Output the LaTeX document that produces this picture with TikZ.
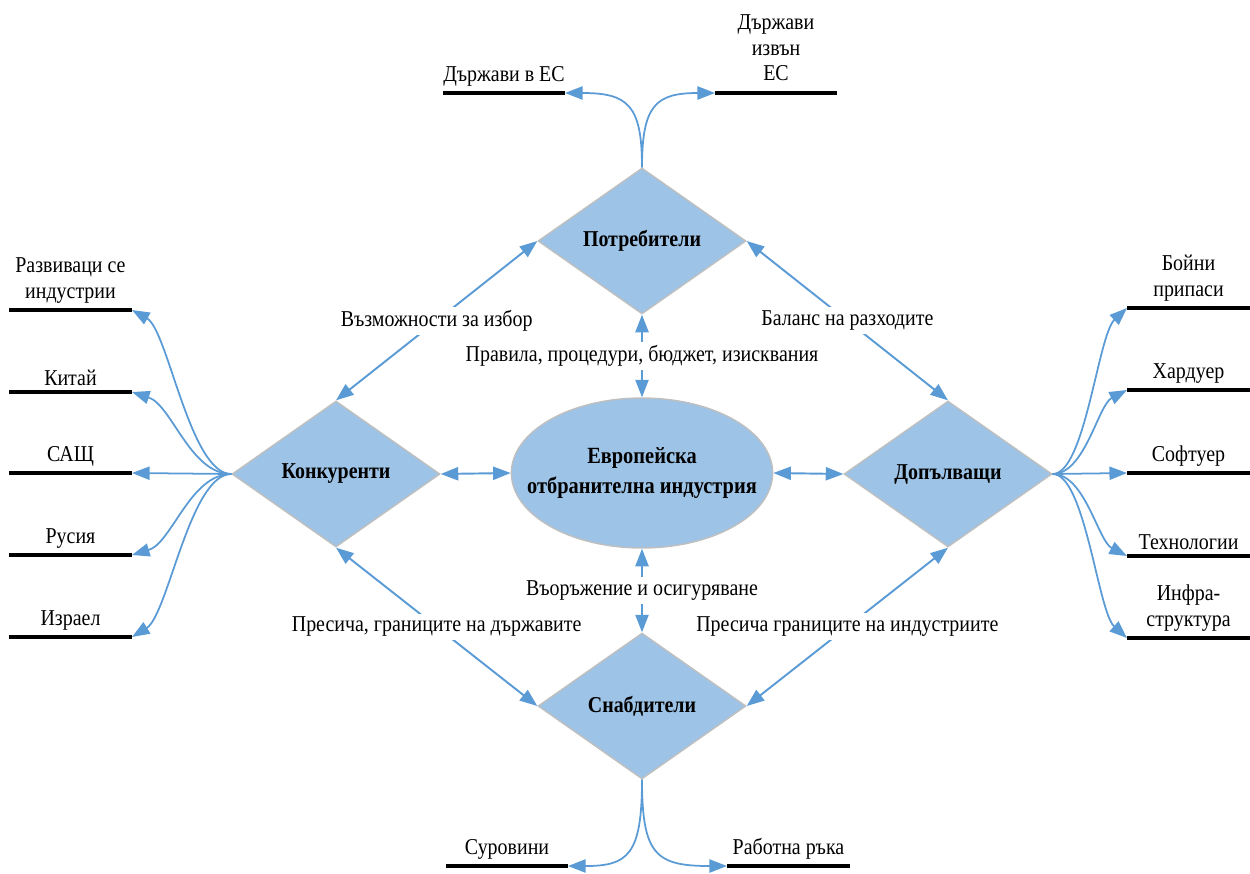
\documentclass[tikz,border=0pt]{standalone}
\usepackage{fontspec}
\setmainfont[FakeStretch=0.88]{Liberation Serif}
\usetikzlibrary{shapes.geometric,arrows.meta}
\definecolor{arrowblue}{HTML}{5B9BD5}
\definecolor{fillblue}{HTML}{9DC3E6}
\definecolor{edgegray}{HTML}{BFBFBF}
\begin{document}
\begin{tikzpicture}[x=0.02cm,y=-0.02cm,
  font=\fontsize{12.9}{14.7}\selectfont,
  dia/.style={diamond,draw=edgegray,line width=0.8pt,fill=fillblue,minimum width=4.16cm,minimum height=2.92cm,inner sep=0pt,font=\fontsize{12.9}{14.7}\selectfont\bfseries},
  ell/.style={ellipse,draw=edgegray,line width=0.8pt,fill=fillblue,minimum width=5.2cm,minimum height=3cm,inner xsep=-0.45cm,inner ysep=0pt,align=center,font=\fontsize{13.2}{17}\selectfont\bfseries},
  conn/.style={draw=arrowblue,line width=1.1pt,{Triangle[length=10pt,width=7.5pt]}-{Triangle[length=10pt,width=7.5pt]}},
  fan/.style={draw=arrowblue,line width=1pt,-{Triangle[length=10pt,width=7.5pt]}},
  bar/.style={draw=black,line width=2.6pt},
  lab/.style={fill=white,inner sep=2pt},
  barlabel/.style={anchor=south,align=center,inner sep=2.5pt}
]
\useasboundingbox (0,0) rectangle (1250,873);

% main shapes
\node[dia] (P) at (642,241) {Потребители};
\node[dia] (K) at (336,474) {Конкуренти};
\node[dia] (D) at (948,474) {Допълващи};
\node[dia] (S) at (642,706) {Снабдители};
\node[ell] (E) at (642,473) {Европейска\\отбранителна индустрия};

% connectors between main shapes
\draw[conn] (K.north) -- node[lab] {Възможности за избор} (P.west);
\draw[conn] (P.east) -- node[lab] {Баланс на разходите} (D.north);
\draw[conn] (K.south) -- node[lab] {Пресича, границите на държавите} (S.west);
\draw[conn] (D.south) -- node[lab] {Пресича границите на индустриите} (S.east);
\draw[conn] (P.south) -- node[lab] {Правила, процедури, бюджет, изисквания} (E.north);
\draw[conn] (E.south) -- node[lab] {Въоръжение и осигуряване} (S.north);
\draw[conn] (K.east) -- (E.west);
\draw[conn] (E.east) -- (D.west);

% top bars
\coordinate (TLa) at (443,93); \coordinate (TLb) at (565,93);
\coordinate (TRa) at (715,93); \coordinate (TRb) at (837,93);
\draw[bar] (TLa) -- (TLb) node[barlabel,midway] {Държави в ЕС};
\draw[bar] (TRa) -- (TRb) node[barlabel,midway,yshift=3pt] {Държави\\извън\\ЕС};
\draw[fan] (P.north) .. controls (642,105) and (628,93) .. (TLb);
\draw[fan] (P.north) .. controls (642,105) and (656,93) .. (TRa);

% bottom bars
\coordinate (BLa) at (446,866); \coordinate (BLb) at (568,866);
\coordinate (BRa) at (727,866); \coordinate (BRb) at (850,866);
\draw[bar] (BLa) -- (BLb) node[barlabel,midway] {Суровини};
\draw[bar] (BRa) -- (BRb) node[barlabel,midway] {Работна ръка};
\draw[fan] (S.south) .. controls (642,855) and (628,866) .. (BLb);
\draw[fan] (S.south) .. controls (642,855) and (656,866) .. (BRa);

% left bars
\coordinate (L1a) at (9,310);  \coordinate (L1b) at (132,310);
\coordinate (L2a) at (9,392);  \coordinate (L2b) at (132,392);
\coordinate (L3a) at (9,473);  \coordinate (L3b) at (132,473);
\coordinate (L4a) at (9,555);  \coordinate (L4b) at (132,555);
\coordinate (L5a) at (9,637);  \coordinate (L5b) at (132,637);
\draw[bar] (L1a) -- (L1b) node[barlabel,midway] {Развиваци се\\индустрии};
\draw[bar] (L2a) -- (L2b) node[barlabel,midway] {Китай};
\draw[bar] (L3a) -- (L3b) node[barlabel,midway] {САЩ};
\draw[bar] (L4a) -- (L4b) node[barlabel,midway] {Русия};
\draw[bar] (L5a) -- (L5b) node[barlabel,midway] {Израел};
\draw[fan] (K.west) .. controls (190,474) and (168,330) .. (L1b);
\draw[fan] (K.west) .. controls (190,474) and (172,405) .. (L2b);
\draw[fan] (K.west) -- (L3b);
\draw[fan] (K.west) .. controls (190,474) and (172,543) .. (L4b);
\draw[fan] (K.west) .. controls (190,474) and (168,615) .. (L5b);

% right bars
\coordinate (R1a) at (1127,308); \coordinate (R1b) at (1250,308);
\coordinate (R2a) at (1127,390); \coordinate (R2b) at (1250,390);
\coordinate (R3a) at (1127,473); \coordinate (R3b) at (1250,473);
\coordinate (R4a) at (1127,556); \coordinate (R4b) at (1250,556);
\coordinate (R5a) at (1127,638); \coordinate (R5b) at (1250,638);
\draw[bar] (R1a) -- (R1b) node[barlabel,midway] {Бойни\\припаси};
\draw[bar] (R2a) -- (R2b) node[barlabel,midway] {Хардуер};
\draw[bar] (R3a) -- (R3b) node[barlabel,midway] {Софтуер};
\draw[bar] (R4a) -- (R4b) node[barlabel,midway] {Технологии};
\draw[bar] (R5a) -- (R5b) node[barlabel,midway] {Инфра-\\структура};
\draw[fan] (D.east) .. controls (1085,474) and (1098,335) .. (R1a);
\draw[fan] (D.east) .. controls (1085,474) and (1098,405) .. (R2a);
\draw[fan] (D.east) -- (R3a);
\draw[fan] (D.east) .. controls (1085,474) and (1098,541) .. (R4a);
\draw[fan] (D.east) .. controls (1085,474) and (1098,612) .. (R5a);
\end{tikzpicture}
\end{document}
